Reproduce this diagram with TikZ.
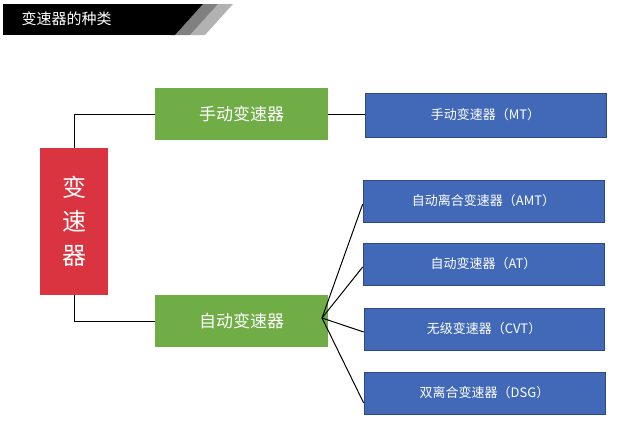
\documentclass[tikz,border=0pt]{standalone}
\usepackage{fontspec}
\setmainfont{Noto Sans CJK SC}
\begin{document}
\begin{tikzpicture}[x=1pt,y=-1pt,
  box/.style={draw=none,inner sep=0pt,text=white,font=\fontsize{13}{15}\selectfont},
  gbox/.style={box,fill=gr,font=\fontsize{17}{20}\selectfont},
  bbox/.style={box,fill=bl,draw=bl!70!black,line width=0.6pt},
  ln/.style={line width=1pt,black}]
\definecolor{gr}{HTML}{70AD47}
\definecolor{bl}{HTML}{4169B8}
\definecolor{rd}{HTML}{D9343F}
\useasboundingbox (0,0) rectangle (629,432);
\fill[white] (0,0) rectangle (629,432);
% header
\fill[gray!60] (190,35) -- (218,4) -- (233,4) -- (205,35) -- cycle;
\fill[gray] (175,35) -- (203,4) -- (218,4) -- (190,35) -- cycle;
\fill[black] (3,4) rectangle (170,35);
\fill[black] (170,4) -- (203,4) -- (175,35) -- (170,35) -- cycle;
\node[text=white,anchor=west,font=\fontsize{15}{18}\selectfont] (title) at (18,19) {变速器的种类};
% nodes
\node[box,fill=rd,minimum width=68pt,minimum height=147pt,font=\fontsize{24}{34}\selectfont,align=center] (root) at (74,221.5) {变\\速\\器};
\node[gbox,minimum width=173pt,minimum height=52pt] (man) at (241.5,114) {手动变速器};
\node[gbox,minimum width=173pt,minimum height=52pt] (aut) at (241.5,321) {自动变速器};
\node[bbox,minimum width=241pt,minimum height=44pt] (mt) at (485.5,115) {手动变速器（MT）};
\node[bbox,minimum width=241pt,minimum height=42pt] (amt) at (483.5,201) {自动离合变速器（AMT）};
\node[bbox,minimum width=241pt,minimum height=42pt] (at) at (483.5,264) {自动变速器（AT）};
\node[bbox,minimum width=240pt,minimum height=42pt] (cvt) at (484,329) {无级变速器（CVT）};
\node[bbox,minimum width=241pt,minimum height=42pt] (dsg) at (484.5,393) {双离合变速器（DSG）};
% connectors
\draw[ln] (root.north) |- (man.west);
\draw[ln] (root.south) |- (aut.west);
\draw[ln] (man.east) -- (mt.west |- man.east);
\coordinate (o) at (322,318);
\draw[ln] (o) -- ([yshift=-3pt]amt.west);
\draw[ln] (o) -- ([yshift=-3pt]at.west);
\draw[ln] (o) -- ([yshift=-3pt]cvt.west);
\draw[ln] (o) -- ([yshift=-10pt]dsg.west);
\end{tikzpicture}
\end{document}
